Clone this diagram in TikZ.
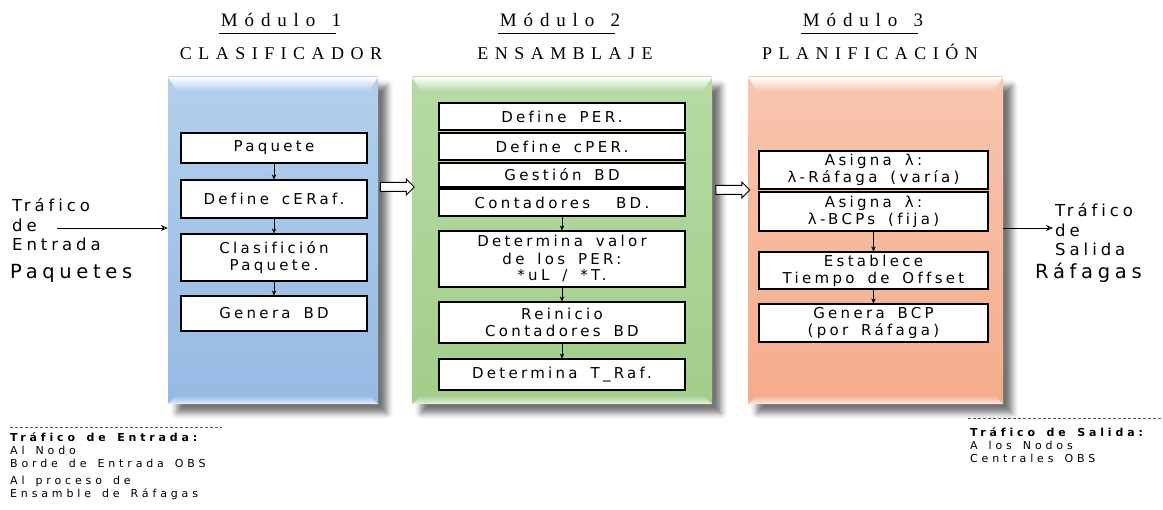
\documentclass[tikz,border=0pt]{standalone}
\usepackage{fontspec}
\setmainfont{DejaVu Sans}
\newfontfamily\boxfont[LetterSpace=22,WordSpace=1.6,Ligatures=NoCommon]{DejaVu Sans}
\newfontfamily\headfont[LetterSpace=36,WordSpace=1.4,Ligatures=NoCommon]{Liberation Serif}
\newfontfamily\sidefont[LetterSpace=24,WordSpace=1.6,Ligatures=NoCommon]{DejaVu Sans}
\newfontfamily\notefont[LetterSpace=35,WordSpace=1.5,Ligatures=NoCommon]{DejaVu Sans}
\usetikzlibrary{arrows.meta,shapes.arrows,shadows.blur,calc}

\definecolor{bluetop}{HTML}{B3CFEC}
\definecolor{bluebot}{HTML}{96BAE4}
\definecolor{greentop}{HTML}{B6DBA4}
\definecolor{greenbot}{HTML}{A2CD8B}
\definecolor{orangetop}{HTML}{F8C6AE}
\definecolor{orangebot}{HTML}{F4AC8C}

% light edges on top and bottom of a module
\newcommand\bevel[3]{%
  \shade[top color=white,bottom color=#2]
    (#1.north west) -- (#1.north east) -- ($(#1.north east)+(-9,14)$)
    -- ($(#1.north west)+(9,14)$) -- cycle;
  \shade[top color=#3,bottom color=#3!25!white]
    ($(#1.south west)+(9,-9)$) -- ($(#1.south east)+(-9,-9)$)
    -- (#1.south east) -- (#1.south west) -- cycle;
}

\begin{document}
\begin{tikzpicture}[x=1pt,y=-1pt,>={Stealth[length=5pt,width=4.5pt]}]
  \tikzset{
    panel/.style={minimum height=327pt,inner sep=0pt,
      top color=#1top,bottom color=#1bot,
      blur shadow={shadow xshift=9pt,shadow yshift=-9pt,
        shadow blur radius=6pt,shadow opacity=55}},
    stage/.style={draw,line width=1.1pt,fill=white,align=center,inner sep=1pt,
      font=\boxfont\fontsize{15}{17}\selectfont},
    modtitle/.style={font=\headfont\fontsize{#1}{#1}\selectfont,
      anchor=base,inner xsep=0pt},
    sidelabel/.style={font=\sidefont\fontsize{#1}{19.5}\selectfont,
      align=left,anchor=west,inner sep=0pt},
    footnote/.style={font=\notefont\fontsize{11}{13}\selectfont,
      align=left,anchor=north west,inner sep=0pt},
    flow/.style={->,line width=0.6pt},
    feed/.style={-{Stealth[open,length=7pt,width=6pt]},line width=0.8pt},
    hollow/.style={single arrow,draw,fill=white,line width=1pt,
      minimum height=34pt,inner sep=4pt,single arrow head extend=3.5pt},
    dashrule/.style={dash pattern=on 3pt off 2pt,line width=0.6pt,gray!70!black}
  }
  \useasboundingbox (0,0) rectangle (1163,510);

  % modules
  \node[panel=blue,minimum width=210pt]   (m1) at (273,240.5) {};
  \node[panel=green,minimum width=300pt]  (m2) at (562,240.5) {};
  \node[panel=orange,minimum width=255pt] (m3) at (875.5,240.5) {};
  \bevel{m1}{bluetop}{bluebot}
  \bevel{m2}{greentop}{greenbot}
  \bevel{m3}{orangetop}{orangebot}

  % titles
  \node[modtitle=19] (t1) at (281,27) {Módulo 1};
  \node[modtitle=19] (t2) at (560,27) {Módulo 2};
  \node[modtitle=19] (t3) at (863,27) {Módulo 3};
  \foreach \t in {t1,t2,t3}
    \draw[line width=0.8pt] ([xshift=-2pt,yshift=-6pt]\t.base west)
      -- ([xshift=-5pt,yshift=-6pt]\t.base east);
  \node[modtitle=18] (n1) at (281,60) {CLASIFICADOR};
  \node[modtitle=18] (n2) at (565,60) {ENSAMBLAJE};
  \node[modtitle=18] (n3) at (870,60) {PLANIFICACIÓN};

  % modulo 1
  \node[stage,minimum width=186pt,minimum height=30pt] (p1) at (274,148)   {Paquete};
  \node[stage,minimum width=186pt,minimum height=38pt] (p2) at (274,199)   {Define cERaf.};
  \node[stage,minimum width=186pt,minimum height=47pt] (p3) at (274,257.5) {Clasifición\\Paquete.};
  \node[stage,minimum width=186pt,minimum height=35pt] (p4) at (274,313.5) {Genera BD};
  \path[flow] (p1) edge (p2) (p2) edge (p3) (p3) edge (p4);

  % modulo 2
  \node[stage,minimum width=246pt,minimum height=27pt] (c1) at (562,116.5) {Define PER.};
  \node[stage,minimum width=246pt,minimum height=27pt] (c2) at (562,146.5) {Define cPER.};
  \node[stage,minimum width=246pt,minimum height=24pt] (c3) at (562,175)   {Gestión BD};
  \node[stage,minimum width=246pt,minimum height=27pt] (c4) at (562,202.5) {Contadores\ \ BD.};
  \node[stage,minimum width=246pt,minimum height=56pt] (c5) at (562,259)   {Determina valor\\de los PER:\\*uL / *T.};
  \node[stage,minimum width=246pt,minimum height=41pt] (c6) at (562,322.5) {Reinicio\\Contadores BD};
  \node[stage,minimum width=246pt,minimum height=31pt] (c7) at (562,374.5) {Determina T\_Raf.};
  \path[flow] (c4) edge (c5) (c5) edge (c6) (c6) edge (c7);

  % modulo 3
  \node[stage,minimum width=229pt,minimum height=38pt] (e1) at (873.5,170)   {Asigna λ:\\λ-Ráfaga (varía)};
  \node[stage,minimum width=229pt,minimum height=39pt] (e2) at (873.5,211.5) {Asigna λ:\\λ-BCPs (fija)};
  \node[stage,minimum width=229pt,minimum height=37pt] (e3) at (873.5,270.5) {Establece\\Tiempo de Offset};
  \node[stage,minimum width=229pt,minimum height=38pt] (e4) at (873.5,323)   {Genera BCP\\(por Ráfaga)};
  \path[flow] (e2) edge (e3) (e3) edge (e4);

  % paso entre modulos
  \node[hollow] (a1) at (395,187) {};
  \node[hollow] (a2) at (730.5,190) {};

  % entrada y salida
  \node[sidelabel=16.5] (tin)  at (12,225)   {Tráfico\\de\\Entrada};
  \node[sidelabel=19.5] (pin)  at (10,273)   {Paquetes};
  \node[sidelabel=16.5] (tout) at (1055,230) {Tráfico\\de\\Salida};
  \node[sidelabel=19.5] (rout) at (1035,273) {Ráfagas};
  \coordinate (inlet)  at (57,228);
  \coordinate (outlet) at (1053,228);
  \draw[feed] (inlet) -- (inlet -| m1.west);
  \draw[feed] (outlet -| m3.east) -- (outlet);

  % notas
  \node[footnote] (nin) at (10,433)
    {\textbf{Tráfico de Entrada:}\\Al Nodo\\Borde de Entrada OBS\\[4pt]Al proceso de\\Ensamble de Ráfagas};
  \node[footnote] (nout) at (970,428)
    {\textbf{Tráfico de Salida:}\\A los Nodos\\Centrales OBS};
  \draw[dashrule] ([yshift=6pt]nin.north west) -- ++(212,0);
  \draw[dashrule] ([xshift=-2pt,yshift=10pt]nout.north west) -- ++(195,0);
\end{tikzpicture}
\end{document}
